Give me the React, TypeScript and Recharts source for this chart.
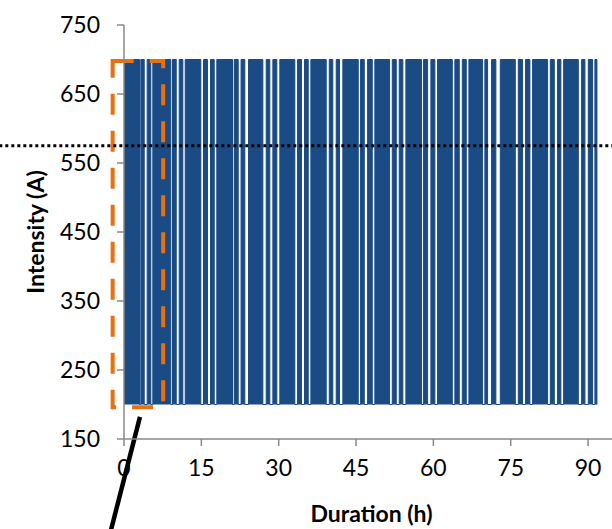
import React from 'react';
import { AreaChart, Area, XAxis, YAxis, ReferenceLine, ReferenceArea } from 'recharts';

// hours where the current switches up to 700 A, and back down to 200 A
const ON_TIMES = [
  0, 3.26, 4.5, 5.59, 9.41, 10.71, 11.87, 15.42, 16.78, 18.0, 21.38, 22.7,
  24.15, 27.58, 28.87, 30.22, 33.66, 35.01, 36.24, 39.81, 41.16, 42.44, 45.88, 47.24,
  48.65, 52.03, 53.38, 54.67, 58.1, 59.52, 60.81, 64.17, 65.61, 66.89, 69.99, 71.29,
  72.98, 76.47, 77.88, 79.24, 82.68, 84.09, 85.26, 88.75, 90.05, 91.33,
];
const OFF_TIMES = [
  3.0, 3.92, 5.2, 9.08, 10.13, 11.41, 14.9, 16.2, 17.5, 21.05, 22.15, 23.43,
  26.93, 28.28, 29.64, 33.13, 34.43, 35.73, 39.22, 40.5, 41.8, 45.43, 46.6, 48.15,
  51.5, 52.8, 54.08, 57.71, 58.88, 60.29, 63.67, 65.02, 66.38, 69.54, 70.51, 72.12,
  75.89, 77.3, 78.72, 82.15, 83.45, 84.73, 88.11, 89.39, 90.88, 91.72,
];
const HIGH = 700;
const LOW = 200;
const THRESHOLD = 575;

const X_TICKS = [0, 15, 30, 45, 60, 75, 90];
const Y_TICKS = [150, 250, 350, 450, 550, 650, 750];

const data = ON_TIMES.flatMap((t, i) => [
  { t, amps: HIGH },
  { t: OFF_TIMES[i], amps: LOW },
]);

const FONT = 'Lato, "Liberation Sans", sans-serif';
const BLUE = '#1B4B84';
const AXIS = '#898989';

export default function App() {
  return (
    <div style={{ position: 'absolute', left: 0, top: 0, width: 612, height: 529, overflow: 'hidden', background: '#fff' }}>
      <AreaChart width={619} height={529} data={data} margin={{ top: 25, right: 0, left: 0, bottom: 0 }}>
        <XAxis
          dataKey="t"
          type="number"
          domain={[0, 96]}
          ticks={X_TICKS}
          allowDataOverflow
          stroke={AXIS}
          strokeWidth={1.5}
          tickSize={7}
          tickMargin={14}
          height={90}
          tick={{ fill: '#000', fontSize: 23, fontFamily: FONT }}
          label={{ value: 'Duration (h)', position: 'insideBottom', offset: 7, fill: '#000', fontSize: 23, fontWeight: 700, fontFamily: FONT }}
        />
        <YAxis
          type="number"
          domain={[150, 750]}
          ticks={Y_TICKS}
          stroke={AXIS}
          strokeWidth={1.5}
          tickSize={7}
          tickMargin={17}
          width={124}
          tick={{ fill: '#000', fontSize: 23, fontFamily: FONT }}
          label={{ value: 'Intensity (A)', angle: -90, position: 'center', dx: -26, fill: '#000', fontSize: 23, fontWeight: 700, fontFamily: FONT }}
        />
        <Area
          type="stepAfter"
          dataKey="amps"
          baseValue={LOW}
          stroke={BLUE}
          strokeWidth={1}
          fill={BLUE}
          fillOpacity={1}
          dot={false}
          activeDot={false}
          isAnimationActive={false}
        />
        <ReferenceLine
          segment={[{ x: -30, y: THRESHOLD }, { x: 100, y: THRESHOLD }]}
          ifOverflow="visible"
          stroke="#000"
          strokeWidth={3}
          strokeDasharray="3 3"
        />
        <ReferenceArea
          x1={-2.2}
          x2={7.6}
          y1={196}
          y2={698}
          ifOverflow="visible"
          fill="none"
          fillOpacity={0}
          stroke="#E8700F"
          strokeWidth={4}
          strokeDasharray="21 16"
        />
        <ReferenceLine
          segment={[{ x: 3.1, y: 182 }, { x: -4, y: -25 }]}
          ifOverflow="visible"
          stroke="#000"
          strokeWidth={4.5}
        />
      </AreaChart>
    </div>
  );
}
